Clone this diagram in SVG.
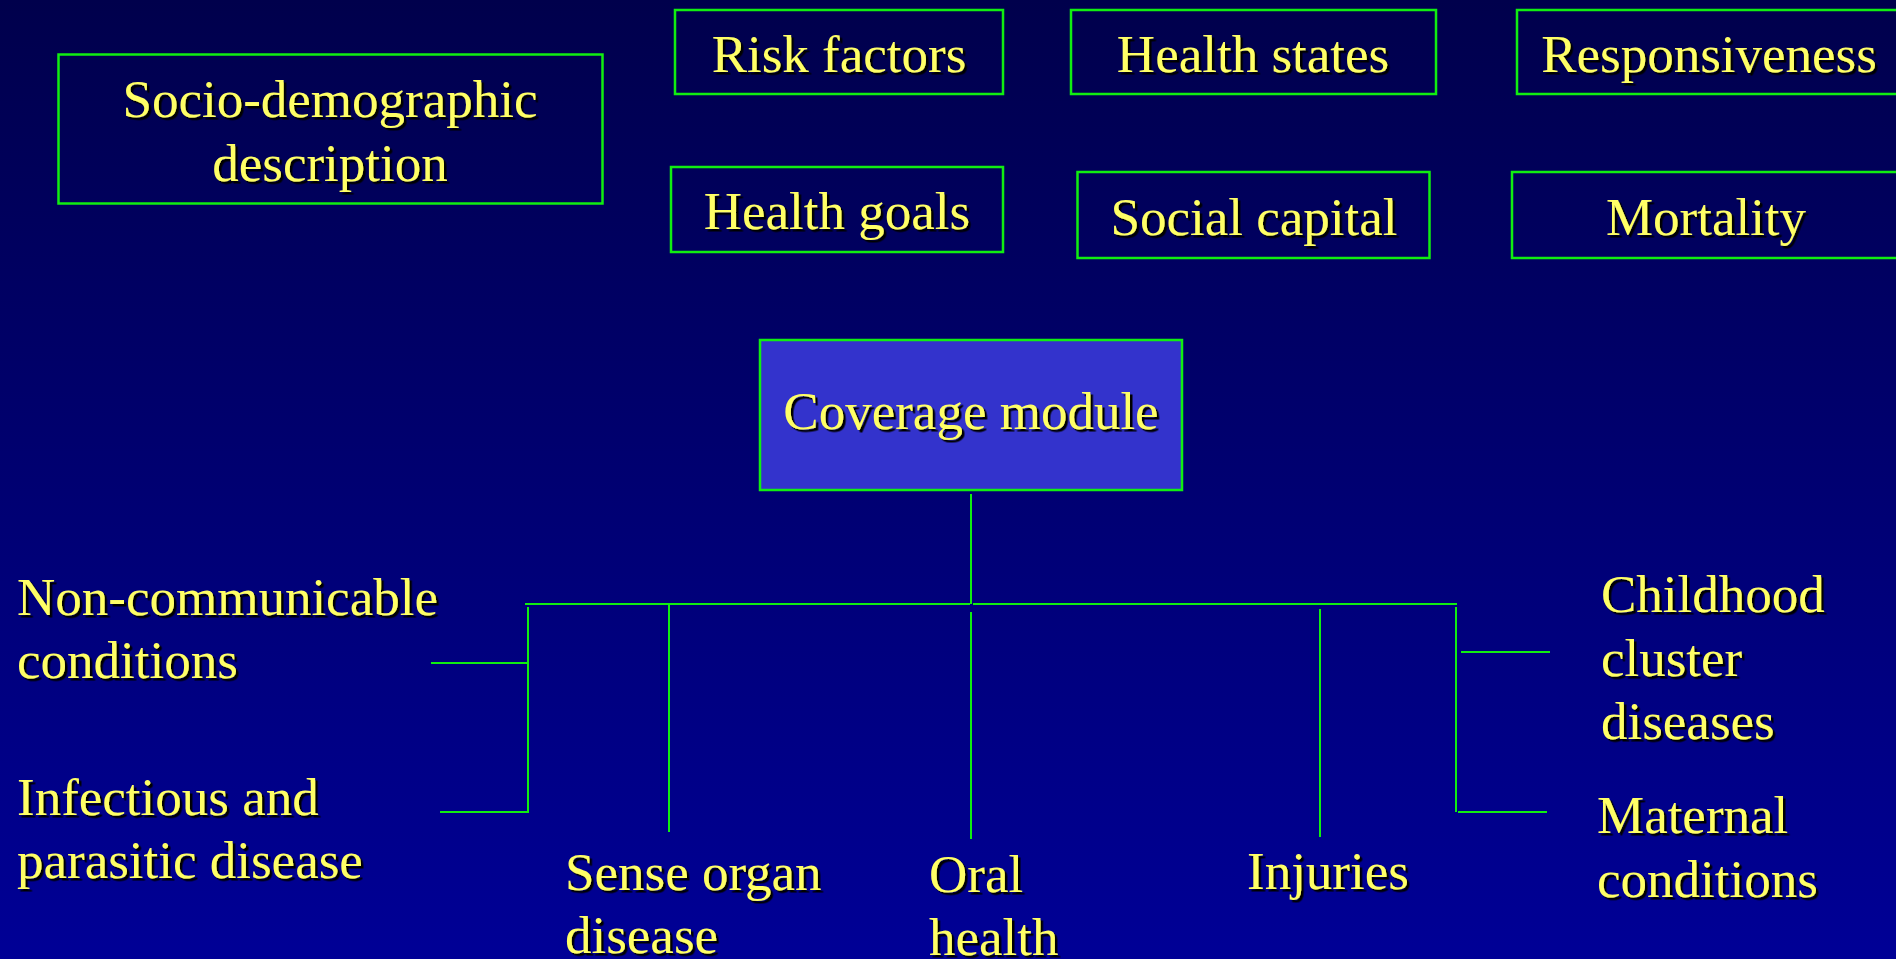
<svg xmlns="http://www.w3.org/2000/svg" width="1896" height="959" viewBox="0 0 1896 959">
<defs>
<linearGradient id="bg" x1="0" y1="0" x2="0" y2="1">
<stop offset="0" stop-color="#00004c"/>
<stop offset="1" stop-color="#000096"/>
</linearGradient>
<filter id="sh" x="-10%" y="-20%" width="120%" height="140%">
<feDropShadow dx="2.5" dy="2.5" stdDeviation="0.6" flood-color="#000000" flood-opacity="1"/>
</filter>
<style>
.box{fill:none;stroke:#11ee11;stroke-width:2.5}
.cov{fill:#3333cc;stroke:#11ee11;stroke-width:2.5}
.t{font-family:"Liberation Serif","Times New Roman",serif;font-size:53px;fill:#ffff66;filter:url(#sh)}
.c{text-anchor:middle}
.ln{stroke:#11ee11;stroke-width:2;fill:none}
</style>
</defs>
<rect x="0" y="0" width="1896" height="959" fill="url(#bg)"/>

<g id="socio">
<rect class="box" x="58.5" y="54.5" width="544" height="149"/>
<text class="t c" x="330" y="117">Socio-demographic</text>
<text class="t c" x="330" y="181">description</text>
</g>
<g id="risk">
<rect class="box" x="675" y="10" width="328" height="84"/>
<text class="t c" x="839" y="72">Risk factors</text>
</g>
<g id="healthstates">
<rect class="box" x="1071" y="10" width="365" height="84"/>
<text class="t c" x="1253" y="72">Health states</text>
</g>
<g id="responsiveness">
<rect class="box" x="1517" y="10" width="390" height="84"/>
<text class="t c" x="1709" y="72">Responsiveness</text>
</g>
<g id="healthgoals">
<rect class="box" x="671" y="167" width="332" height="85"/>
<text class="t c" x="837" y="229">Health goals</text>
</g>
<g id="socialcapital">
<rect class="box" x="1077.5" y="172" width="352" height="86"/>
<text class="t c" x="1254" y="235">Social capital</text>
</g>
<g id="mortality">
<rect class="box" x="1512" y="172" width="395" height="86"/>
<text class="t c" x="1706" y="235">Mortality</text>
</g>
<g id="coverage">
<rect class="cov" x="760" y="340" width="422" height="150"/>
<text class="t c" x="971" y="429">Coverage module</text>
</g>

<g id="connectors">
<line class="ln" x1="971" y1="494" x2="971" y2="604"/>
<line class="ln" x1="525" y1="604" x2="970" y2="604"/>
<line class="ln" x1="973" y1="604" x2="1457" y2="604"/>
<line class="ln" x1="528" y1="607" x2="528" y2="813"/>
<line class="ln" x1="431" y1="663" x2="527" y2="663"/>
<line class="ln" x1="440" y1="812" x2="528" y2="812"/>
<line class="ln" x1="669" y1="604" x2="669" y2="832" stroke-width="1.5"/>
<line class="ln" x1="971" y1="612" x2="971" y2="839" stroke-width="1.5"/>
<line class="ln" x1="1320" y1="609" x2="1320" y2="837" stroke-width="1.5"/>
<line class="ln" x1="1456" y1="607" x2="1456" y2="812" stroke-width="1.5"/>
<line class="ln" x1="1461" y1="652" x2="1550" y2="652"/>
<line class="ln" x1="1458" y1="812" x2="1547" y2="812"/>
</g>

<g id="noncommunicable">
<text class="t" x="17" y="615">Non-communicable</text>
<text class="t" x="17" y="678">conditions</text>
</g>
<g id="infectious">
<text class="t" x="17" y="815">Infectious and</text>
<text class="t" x="17" y="878">parasitic disease</text>
</g>
<g id="senseorgan">
<text class="t" x="565" y="890">Sense organ</text>
<text class="t" x="565" y="953">disease</text>
</g>
<g id="oralhealth">
<text class="t" x="929" y="892">Oral</text>
<text class="t" x="929" y="955">health</text>
</g>
<g id="injuries">
<text class="t" x="1247" y="889">Injuries</text>
</g>
<g id="childhood">
<text class="t" x="1601" y="612">Childhood</text>
<text class="t" x="1601" y="676">cluster</text>
<text class="t" x="1601" y="739">diseases</text>
</g>
<g id="maternal">
<text class="t" x="1597" y="833">Maternal</text>
<text class="t" x="1597" y="897">conditions</text>
</g>
</svg>
